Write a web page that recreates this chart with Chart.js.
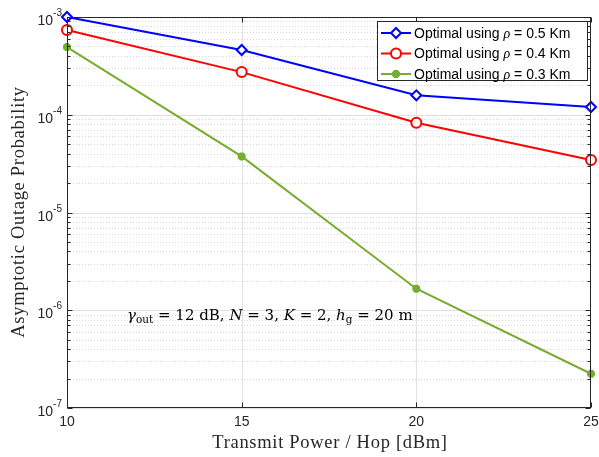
<!DOCTYPE html>
<html><head><meta charset="utf-8">
<script src="https://cdn.jsdelivr.net/npm/chart.js@4"></script>
<style>html,body{margin:0;padding:0;background:#fff;}canvas{display:block;}</style>
</head><body>
<canvas id="c" width="599" height="457"></canvas>
<script>
const powers = [10, 15, 20, 25];
const xTicks = [10, 15, 20, 25];
const rho05 = [1.0e-3, 4.6e-4, 1.58e-4, 1.2e-4];
const rho04 = [7.35e-4, 2.73e-4, 8.3e-5, 3.45e-5];
const rho03 = [4.92e-4, 3.75e-5, 1.66e-6, 2.24e-7];
const yExponents = [-7, -6, -5, -4, -3];
const seriesLabels = ['0.5', '0.4', '0.3'];

const AX = '#262626';
const SANS = '"Liberation Sans", Arial, sans-serif';
const SERIF = '"DejaVu Serif", "Liberation Serif", serif';
const SERIF2 = '"Liberation Serif", "DejaVu Serif", serif';

function pts(v){ return powers.map((p,i)=>({x:p, y:v[i]})); }

const custom = {
  id: 'custom',
  beforeDatasetsDraw(chart){
    const {ctx, chartArea:a, scales:{x, y}} = chart;
    ctx.save();
    ctx.strokeStyle = '#e3e3e3'; ctx.lineWidth = 1; ctx.setLineDash([]);
    xTicks.forEach(t=>{
      if (t === xTicks[0] || t === xTicks[xTicks.length-1]) return;
      const px = Math.round(x.getPixelForValue(t)) + 0.5;
      ctx.beginPath(); ctx.moveTo(px, a.top); ctx.lineTo(px, a.bottom); ctx.stroke();
    });
    for (let e = yExponents[0]; e <= yExponents[yExponents.length-1]; e++){
      for (let m = 1; m <= 9; m++){
        const v = m * Math.pow(10, e);
        if (e === yExponents[yExponents.length-1] && m > 1) break;
        const py = Math.round(y.getPixelForValue(v)) + 0.5;
        if (m === 1){ ctx.strokeStyle = '#e0e0e0'; ctx.setLineDash([]); }
        else { ctx.strokeStyle = '#d6d6d6'; ctx.setLineDash([1, 2]); }
        ctx.beginPath(); ctx.moveTo(a.left, py); ctx.lineTo(a.right, py); ctx.stroke();
      }
    }
    ctx.restore();
  },
  afterDatasetsDraw(chart){
    const {ctx, chartArea:a, scales:{x, y}} = chart;
    ctx.save();
    ctx.setLineDash([]);
    ctx.strokeStyle = AX; ctx.lineWidth = 1;
    const L = Math.round(a.left)+0.5, R = Math.round(a.right)-0.5, T = Math.round(a.top)+0.5, B = Math.round(a.bottom)-0.5;
    ctx.strokeRect(L, T, R-L, B-T);
    for (let e = yExponents[0]; e <= yExponents[yExponents.length-1]; e++){
      for (let m = 1; m <= 9; m++){
        if (e === yExponents[yExponents.length-1] && m > 1) break;
        const v = m * Math.pow(10, e);
        const py = Math.round(y.getPixelForValue(v)) + 0.5;
        const len = m === 1 ? 5 : 3;
        ctx.beginPath();
        ctx.moveTo(L, py); ctx.lineTo(L+len, py);
        ctx.moveTo(R, py); ctx.lineTo(R-len, py);
        ctx.stroke();
      }
    }
    xTicks.forEach(t=>{
      const px = Math.round(x.getPixelForValue(t)) + 0.5;
      ctx.beginPath();
      ctx.moveTo(px, B); ctx.lineTo(px, B-5);
      ctx.moveTo(px, T); ctx.lineTo(px, T+5);
      ctx.stroke();
    });
    ctx.fillStyle = AX;
    ctx.font = '14px ' + SANS;
    ctx.textAlign = 'center'; ctx.textBaseline = 'top';
    xTicks.forEach(t=>{ ctx.fillText(String(t), x.getPixelForValue(t), a.bottom + 7); });
    yExponents.forEach(e=>{
      const py = y.getPixelForValue(Math.pow(10, e));
      const exp = String(e);
      ctx.font = '10px ' + SANS;
      const ew = ctx.measureText(exp).width;
      const right = a.left - 5;
      ctx.textAlign = 'left'; ctx.textBaseline = 'alphabetic';
      ctx.fillText(exp, right - ew, py - 1);
      ctx.font = '14px ' + SANS;
      ctx.textAlign = 'right';
      ctx.fillText('10', right - ew, py + 8);
    });
    // axis titles
    ctx.font = '18.5px ' + SERIF2;
    ctx.letterSpacing = '0.7px';
    ctx.textAlign = 'center'; ctx.textBaseline = 'alphabetic';
    ctx.fillStyle = '#262626';
    ctx.fillText('Transmit Power / Hop [dBm]', 330, 448);
    ctx.save();
    ctx.translate(24, 212);
    ctx.rotate(-Math.PI/2);
    ctx.fillText('Asymptotic Outage Probability', 0, 0);
    ctx.restore();
    ctx.letterSpacing = '0px';

    // annotation
    const fs = 15;
    const parts = [
      ['γ', 'italic ' + fs + 'px ' + SERIF, 0],
      ['out', (fs*0.7) + 'px ' + SERIF, 3],
      [' = 12 dB, ', fs + 'px ' + SERIF, 0],
      ['N', 'italic ' + fs + 'px ' + SERIF, 0],
      [' = 3, ', fs + 'px ' + SERIF, 0],
      ['K', 'italic ' + fs + 'px ' + SERIF, 0],
      [' = 2, ', fs + 'px ' + SERIF, 0],
      ['h', 'italic ' + fs + 'px ' + SERIF, 0],
      ['g', (fs*0.7) + 'px ' + SERIF, 3],
      [' = 20 m', fs + 'px ' + SERIF, 0]
    ];
    let ax = 127; const ay = 320;
    ctx.textAlign = 'left'; ctx.fillStyle = '#000';
    parts.forEach(([s, f, dy])=>{
      ctx.font = f; ctx.fillText(s, ax, ay + dy); ax += ctx.measureText(s).width;
    });

    // legend
    const lx = 377.5, ly = 21.5, lw = 210, lh = 59;
    ctx.fillStyle = '#fff';
    ctx.fillRect(lx, ly, lw, lh);
    ctx.strokeStyle = AX; ctx.lineWidth = 1;
    ctx.strokeRect(lx, ly, lw, lh);
    chart.data.datasets.forEach((ds, i)=>{
      const cy = 33 + i*20.5;
      ctx.strokeStyle = ds.borderColor; ctx.lineWidth = 2;
      ctx.beginPath(); ctx.moveTo(381, cy); ctx.lineTo(411, cy); ctx.stroke();
      ctx.fillStyle = ds.backgroundColor;
      ctx.strokeStyle = ds.borderColor;
      ctx.lineWidth = ds.pointBorderWidth;
      Chart.helpers.drawPoint(ctx, {
        pointStyle: ds.pointStyle, rotation: 0, radius: ds.pointRadius,
        borderWidth: ds.pointBorderWidth
      }, 396, cy);
      ctx.fillStyle = '#000';
      ctx.textBaseline = 'middle';
      let tx = 414;
      const segs = [['Optimal using ', '14px ' + SANS], ['ρ', 'italic 14px ' + SERIF2], [' = ' + seriesLabels[i] + ' Km', '14px ' + SANS]];
      segs.forEach(([s, f])=>{ ctx.font = f; ctx.fillText(s, tx, cy+1); tx += ctx.measureText(s).width; });
    });
    ctx.restore();
  }
};

const colors = ['#0000ff', '#ff0000', '#77ac30'];
const chart = new Chart(document.getElementById('c'), {
  type: 'line',
  data: {
    datasets: [
      { label: 'rho05', data: pts(rho05), borderColor: colors[0], backgroundColor: '#ffffff', pointBackgroundColor: '#ffffff', pointStyle: 'rectRot', pointRadius: 5, pointBorderWidth: 2, borderWidth: 2, clip: false },
      { label: 'rho04', data: pts(rho04), borderColor: colors[1], backgroundColor: '#ffffff', pointBackgroundColor: '#ffffff', pointStyle: 'circle', pointRadius: 5, pointBorderWidth: 2, borderWidth: 2, clip: false },
      { label: 'rho03', data: pts(rho03), borderColor: colors[2], backgroundColor: colors[2], pointBackgroundColor: colors[2], pointStyle: 'star', pointRadius: 4, pointBorderWidth: 3, borderWidth: 2, clip: false }
    ]
  },
  options: {
    responsive: false, animation: false,
    layout: { padding: { top: 17, right: 8, left: 0, bottom: 0 } },
    plugins: { legend: { display: false }, tooltip: { enabled: false } },
    elements: { line: { tension: 0 } },
    scales: {
      x: { type: 'linear', min: 10, max: 25, ticks: { display: false, stepSize: 5 }, grid: { display: false }, border: { display: false },
           afterFit(s){ s.height = 49; } },
      y: { type: 'logarithmic', min: 1e-7, max: 1e-3, ticks: { display: false }, grid: { display: false }, border: { display: false },
           afterFit(s){ s.width = 67; } }
    }
  },
  plugins: [custom]
});
</script>
</body></html>
